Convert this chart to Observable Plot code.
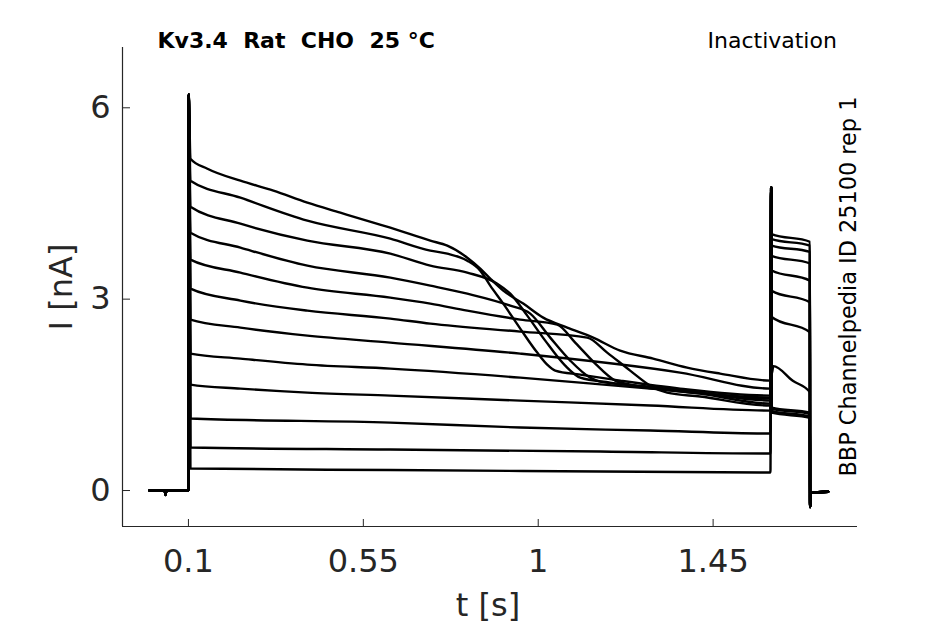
<!DOCTYPE html>
<html>
<head>
<meta charset="utf-8">
<script src="https://cdn.jsdelivr.net/npm/d3@7"></script>
<script src="https://cdn.jsdelivr.net/npm/@observablehq/plot@0.6"></script>
<style>
  html, body { margin: 0; padding: 0; background: #fff; }
  #chart svg { display: block; }
</style>
</head>
<body>
<div id="chart"></div>
<script>
// ---- axes ----
const xDomain = [-0.0697, 1.8215];
const yDomain = [-0.564, 6.945];
const xTicks = [0.1, 0.55, 1, 1.45];
const xTickLabels = ["0.1", "0.55", "1", "1.45"];
const yTicks = [0, 3, 6];
const yTickLabels = ["0", "3", "6"];

// ---- texts ----
const titleText = "Kv3.4  Rat  CHO  25 °C";
const protocolText = "Inactivation";
const sourceText = "BBP Channelpedia ID 25100 rep 1";
const xLabel = "t [s]";
const yLabel = "I [nA]";

// ---- shared protocol parts (t [s], I [nA]) ----
const baselineT = [0, 0.039, 0.041, 0.043, 0.1];
const baselineI = [0, 0, -0.07, 0, 0];
const onsetSpike = [0.1008, 6.204];
const testSpike = [1.5993, 4.75];
const offSpike = [1.6995, -0.26];
const tailT = [1.7015, 1.746];
const tailI = [-0.04, -0.02];

// ---- prepulse currents, one array per sweep ----
const prepulse1 = [[0.1051,5.201],[0.1488,5.045],[0.2337,4.857],[0.3186,4.700],[0.406,4.512],[0.4908,4.355],[0.5757,4.199],[0.6194,4.120],[0.7223,3.917],[0.766,3.838],[0.8174,3.650],[0.8508,3.478],[0.8765,3.321],[0.9100,3.133],[0.9614,2.930],[1.0128,2.710],[1.0746,2.554],[1.1414,2.397],[1.2108,2.193],[1.2957,2.068],[1.3831,1.927],[1.4680,1.833],[1.5975,1.723]];
const prepulse2 = [[0.1051,4.857],[0.2337,4.590],[0.406,4.230],[0.6194,3.948],[0.7223,3.760],[0.766,3.713],[0.8174,3.603],[0.8508,3.447],[0.8765,3.212],[0.9100,2.930],[0.9537,2.538],[0.9974,2.162],[1.0231,1.974],[1.0437,1.880],[1.1080,1.817],[1.2108,1.723],[1.3651,1.598],[1.5975,1.488]];
const prepulse3 = [[0.1051,4.449],[0.2337,4.183],[0.406,3.917],[0.6194,3.713],[0.7223,3.525],[0.8174,3.416],[0.8945,3.243],[0.9280,3.086],[0.9717,2.742],[1.0180,2.350],[1.0694,1.958],[1.1080,1.770],[1.1851,1.692],[1.3651,1.567],[1.5975,1.441]];
const prepulse4 = [[0.1051,4.042],[0.2337,3.807],[0.406,3.525],[0.6194,3.337],[0.7223,3.212],[0.8174,3.086],[0.9280,2.898],[0.9794,2.773],[1.0308,2.397],[1.0823,2.037],[1.1337,1.770],[1.1594,1.708],[1.2880,1.629],[1.4165,1.535],[1.5975,1.410]];
const prepulse5 = [[0.1051,3.619],[0.2337,3.416],[0.406,3.180],[0.6194,3.024],[0.7223,2.930],[0.8174,2.820],[0.9537,2.679],[1.0488,2.601],[1.0951,2.319],[1.1466,1.990],[1.1980,1.723],[1.2365,1.661],[1.4165,1.520],[1.5975,1.363]];
const prepulse6 = [[0.1051,3.165],[0.2337,2.977],[0.406,2.820],[0.6194,2.695],[0.7223,2.616],[0.9537,2.491],[1.1260,2.397],[1.1774,2.162],[1.2365,1.880],[1.2880,1.645],[1.3317,1.535],[1.4165,1.473],[1.5975,1.332]];
const prepulse7 = [[0.1051,2.679],[0.2337,2.554],[0.406,2.428],[0.6194,2.319],[0.9537,2.146],[1.3651,1.849],[1.5975,1.598]];
const prepulse8 = [[0.1051,2.146],[0.2337,2.068],[0.406,1.974],[0.6194,1.911],[0.9537,1.770],[1.2880,1.598],[1.5975,1.457]];
const prepulse9 = [[0.1051,1.661],[0.2337,1.598],[0.406,1.535],[0.6194,1.488],[0.9537,1.410],[1.2880,1.332],[1.5975,1.253]];
const prepulse10 = [[0.1051,1.128],[0.6194,1.065],[0.9537,0.987],[1.2880,0.940],[1.5975,0.893]];
const prepulse11 = [[0.1051,0.674],[0.6194,0.642],[1.1594,0.611],[1.5975,0.580]];
const prepulse12 = [[0.1051,0.345],[0.6194,0.321],[1.1594,0.298],[1.5975,0.282]];

// ---- test-pulse currents, one array per sweep ----
const test1 = [[1.6008,1.28],[1.699,1.20]];
const test2 = [[1.6008,1.25],[1.699,1.16]];
const test3 = [[1.6008,1.30],[1.699,1.22]];
const test4 = [[1.6008,1.22],[1.699,1.14]];
const test5 = [[1.6008,1.83],[1.605,1.95],[1.655,1.72],[1.699,1.54]];
const test6 = [[1.6008,2.72],[1.699,2.48]];
const test7 = [[1.6008,3.13],[1.699,2.95]];
const test8 = [[1.6008,3.45],[1.699,3.29]];
const test9 = [[1.6008,3.68],[1.699,3.56]];
const test10 = [[1.6008,3.84],[1.699,3.74]];
const test11 = [[1.6008,3.94],[1.699,3.84]];
const test12 = [[1.6008,4.02],[1.699,3.90]];

const prepulses = [prepulse1,prepulse2,prepulse3,prepulse4,prepulse5,prepulse6,prepulse7,prepulse8,prepulse9,prepulse10,prepulse11,prepulse12];
const tests = [test1,test2,test3,test4,test5,test6,test7,test8,test9,test10,test11,test12];

const rows = [];
prepulses.forEach((pre, k) => {
  const pts = [];
  baselineT.forEach((t, i) => pts.push([t, baselineI[i]]));
  pts.push(onsetSpike);
  pre.forEach(p => pts.push(p));
  pts.push(testSpike);
  tests[k].forEach(p => pts.push(p));
  pts.push(offSpike);
  tailT.forEach((t, i) => pts.push([t, tailI[i]]));
  pts.forEach(([t, I]) => rows.push({sweep: k + 1, t, I}));
});

const axisColor = "#262626";

const chart = Plot.plot({
  width: 945,
  height: 624,
  marginLeft: 122,
  marginRight: 88,
  marginTop: 47,
  marginBottom: 98,
  style: {fontFamily: "DejaVu Sans", color: axisColor, background: "white", overflow: "visible"},
  x: {domain: xDomain},
  y: {domain: yDomain},
  marks: [
    Plot.ruleX([xDomain[0]], {stroke: axisColor, strokeWidth: 1.2}),
    Plot.ruleY([yDomain[0]], {stroke: axisColor, strokeWidth: 1.2}),
    Plot.axisX({ticks: xTicks, tickFormat: d => xTickLabels[xTicks.indexOf(d)], tickSize: -7, tickPadding: 30, fontSize: 32, label: null, stroke: axisColor}),
    Plot.axisY({ticks: yTicks, tickFormat: d => yTickLabels[yTicks.indexOf(d)], tickSize: -8, tickPadding: 20, fontSize: 32, label: null, stroke: axisColor}),
    Plot.line(rows, {x: "t", y: "I", z: "sweep", stroke: "black", strokeWidth: 2.4, strokeLinejoin: "round", curve: "monotone-x"}),
    Plot.text([titleText], {text: d => d, frameAnchor: "top-left", textAnchor: "start", lineAnchor: "middle", dx: 35, dy: -7, fontSize: 22, fontWeight: "bold", fill: "black"}),
    Plot.text([protocolText], {text: d => d, frameAnchor: "top-left", textAnchor: "start", lineAnchor: "middle", dx: 585, dy: -7, fontSize: 22, fill: "black"}),
    Plot.text([sourceText], {text: d => d, frameAnchor: "bottom-right", textAnchor: "start", lineAnchor: "middle", rotate: -90, dx: -9, dy: -50, fontSize: 22.4, fill: "black"}),
    Plot.text([yLabel], {text: d => d, frameAnchor: "left", textAnchor: "middle", lineAnchor: "middle", rotate: -90, dx: -60.5, fontSize: 32, fill: axisColor}),
    Plot.text([xLabel], {text: d => d, frameAnchor: "bottom", textAnchor: "middle", lineAnchor: "middle", dx: -2, dy: 78.8, fontSize: 32, fill: axisColor})
  ]
});
document.getElementById("chart").appendChild(chart);
</script>
</body>
</html>
